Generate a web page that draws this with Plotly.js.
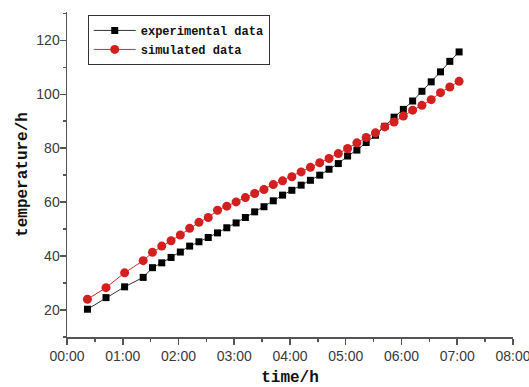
<!DOCTYPE html>
<html>
<head>
<meta charset="utf-8">
<script src="https://cdn.plot.ly/plotly-3.0.1.min.js"></script>
<style>html,body{margin:0;padding:0;background:#fff;}#chart{width:529px;height:387px;}</style>
</head>
<body>
<div id="chart"></div>
<script>
const times = ['00:22','00:42','01:02','01:22','01:32','01:42','01:52','02:02','02:12','02:22',
  '02:32','02:42','02:52','03:02','03:12','03:22','03:32','03:42','03:52','04:02',
  '04:12','04:22','04:32','04:42','04:52','05:02','05:12','05:22','05:32','05:42',
  '05:52','06:02','06:12','06:22','06:32','06:42','06:52','07:02'];
const experimental = [20.3,24.6,28.6,32.1,35.7,37.5,39.5,41.5,43.7,45.3,
  46.9,48.6,50.5,52.3,54.3,56.4,58.3,60.5,62.6,64.4,
  66.3,68.1,70.0,72.2,74.3,77.1,79.3,82.1,84.8,88.1,
  91.5,94.4,97.5,101.1,104.6,108.3,112.2,115.7];
const simulated = [24.0,28.3,33.8,38.3,41.4,43.7,45.7,47.8,50.3,52.5,
  54.3,57.0,58.5,60.1,61.7,63.2,64.7,66.5,67.9,69.4,
  71.2,72.9,74.6,76.2,78.0,79.9,82.0,84.0,85.7,87.9,
  89.7,91.9,94.1,95.9,98.0,100.6,102.7,104.8];
const seriesNames = ['experimental data','simulated data'];
const xTitle = 'time/h';
const yTitle = 'temperature/h';

const day = '2000-01-01 ';
const xs = times.map(t => day + t);

const traces = [
  {x: xs, y: experimental, name: seriesNames[0], type: 'scatter', mode: 'lines+markers',
   line: {color: '#333', width: 1}, marker: {symbol: 'square', size: 7, color: '#000'}},
  {x: xs, y: simulated, name: seriesNames[1], type: 'scatter', mode: 'lines+markers',
   line: {color: '#d42a2a', width: 1}, marker: {symbol: 'circle', size: 9, color: '#d41f1f'}}
];

const tickFont = {family: 'Liberation Sans, Arial, sans-serif', size: 14, color: '#3a3a3a'};
const titleFont = {family: 'Liberation Mono, DejaVu Sans Mono, monospace', size: 16, color: '#111', weight: 'bold'};

const layout = {
  width: 529, height: 387,
  margin: {l: 66.5, r: 15.5, t: 12, b: 49.5},
  paper_bgcolor: '#fff', plot_bgcolor: '#fff',
  showlegend: true,
  legend: {x: 0.0465, y: 0.991, xanchor: 'left', yanchor: 'top',
    bordercolor: '#333', borderwidth: 1, bgcolor: '#fff', itemwidth: 42,
    font: {family: 'Liberation Mono, DejaVu Sans Mono, monospace', size: 12, color: '#111', weight: 'bold'},
    tracegroupgap: 0},
  xaxis: {type: 'date', range: [day + '00:00', day + '08:00:01'], tickformat: '%H:%M',
    dtick: 3600000, tick0: day + '00:00', showgrid: false, zeroline: false,
    showline: true, linecolor: '#555', linewidth: 1.5, ticks: 'outside', ticklen: 6,
    tickwidth: 1.5, tickcolor: '#555', tickfont: tickFont, ticklabeloverflow: 'allow',
    minor: {dtick: 1800000, ticks: 'outside', ticklen: 3, tickcolor: '#555', tickwidth: 1.5, showgrid: false},
    title: {text: xTitle, font: titleFont, standoff: 11}},
  yaxis: {range: [10, 130.5], dtick: 20, tick0: 0, showgrid: false, zeroline: false,
    showline: true, linecolor: '#555', linewidth: 1.5, ticks: 'outside', ticklen: 6,
    tickwidth: 1.5, tickcolor: '#555', tickfont: tickFont, ticklabelstandoff: -3,
    minor: {dtick: 10, ticks: 'outside', ticklen: 3, tickcolor: '#555', tickwidth: 1.5, showgrid: false},
    title: {text: yTitle, font: titleFont, standoff: 4}}
};

Plotly.newPlot('chart', traces, layout, {displayModeBar: false, staticPlot: true});
</script>
</body>
</html>
